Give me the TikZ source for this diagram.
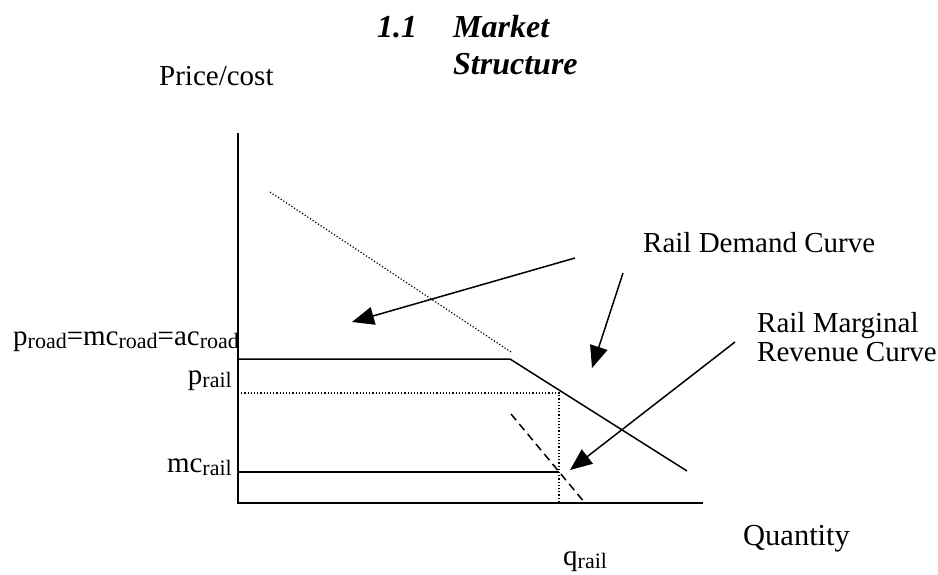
\documentclass[tikz,border=0pt]{standalone}
\usepackage{fontspec}
\setmainfont{Liberation Serif}
\usetikzlibrary{arrows.meta}
\newcommand{\lowsub}[1]{\raisebox{-3pt}{\fontsize{22}{22}\selectfont #1}}

\begin{document}
\begin{tikzpicture}[x=1pt, y=-1pt,
		lbl/.style={inner sep=0pt, align=left, font=\fontsize{29}{29}\selectfont},
		ttl/.style={inner sep=0pt, align=left, font=\fontsize{32}{37}\selectfont\bfseries\itshape},
		curve/.style={line width=1.5pt},
		dots/.style={line width=1.2pt, dash pattern=on 1.2pt off 2pt},
		pointer/.style={line width=1.5pt, -{Triangle[length=22pt,width=18pt]}}]
		\useasboundingbox (0,0) rectangle (938,574);
		
		%title
		\node[ttl, anchor=base west] (secnum) at (377,37){1.1};
		\node[ttl, anchor=base west] (sectitle) at (453,74){Market\\Structure};
		
		%axes
		\coordinate (ytop) at (238,133);
		\coordinate (origin) at (238,503);
		\coordinate (xend) at (703,503);
		\draw[curve] (ytop) -- (origin) -- (xend);
		\node[lbl, anchor=base west] (pricelbl) at (159,85){Price/cost};
		\node[lbl, anchor=base west, font=\fontsize{30.5}{30}\selectfont] (qtylbl) at (743,545){Quantity};
		
		%levels on the price axis
		\node[lbl, anchor=base west] (proad) at (13,345){p\lowsub{road}=mc\lowsub{road}=ac\lowsub{road}};
		\node[lbl, anchor=base east] (prail) at (232,384){p\lowsub{rail}};
		\node[lbl, anchor=base east] (mcrail) at (232,472){mc\lowsub{rail}};
		\node[lbl, anchor=base west] (qrail) at (563,565){q\lowsub{rail}};
		
		%demand and marginal revenue
		\coordinate (roadstart) at (238,359);
		\coordinate (kink) at (510,359);
		\coordinate (demandend) at (687,471);
		\draw[curve] (roadstart) -- (kink) -- (demandend);
		\coordinate (hidtop) at (270,192);
		\coordinate (hidend) at (511,352);
		\draw[dots] (hidtop) -- (hidend);
		\coordinate (mrtop) at (511,414);
		\coordinate (mrend) at (585,503);
		\draw[curve, dash pattern=on 8pt off 5pt] (mrtop) -- (mrend);
		
		%optimum
		\coordinate (pstart) at (238,393);
		\coordinate (opt) at (559,393);
		\coordinate (qfoot) at (559,503);
		\draw[dots] (pstart) -- (opt) -- (qfoot);
		\coordinate (mcstart) at (238,472);
		\coordinate (mcend) at (559,472);
		\draw[curve] (mcstart) -- (mcend);
		
		%labels of the curves
		\node[lbl, anchor=base west] (demandlbl) at (643,252){Rail Demand Curve};
		\node[lbl, anchor=base west] (mrlbl) at (757,361){Rail Marginal\\Revenue Curve};
		\coordinate (a1) at (575,258);
		\coordinate (a1tip) at (352,322);
		\coordinate (a2) at (623,273);
		\coordinate (a2tip) at (592,368);
		\coordinate (a3) at (735,342);
		\coordinate (a3tip) at (570,470);
		\draw[pointer] (a1) -- (a1tip);
		\draw[pointer] (a2) -- (a2tip);
		\draw[pointer] (a3) -- (a3tip);
	\end{tikzpicture}
\end{document}
